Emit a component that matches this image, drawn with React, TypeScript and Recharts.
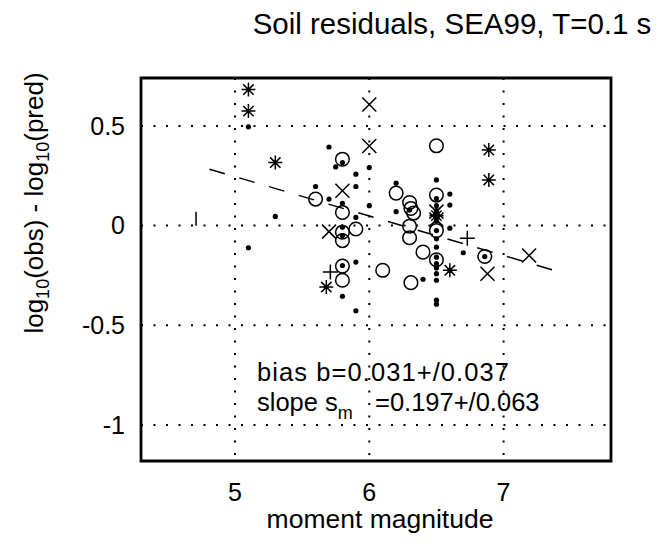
import { ScatterChart, Scatter, XAxis, YAxis, CartesianGrid, ReferenceArea } from 'recharts';

const FONT = '"Liberation Sans", Arial, Helvetica, sans-serif';

// axis ranges and ticks
const xDomain = [4.3, 7.8];
const yDomain = [-1.18, 0.74];
const xTicks = [5, 6, 7];
const yTicks = [-1, -0.5, 0, 0.5];

// small filled dots
const dotX = [5.1, 5.1, 5.3, 5.7, 5.8, 5.75, 5.9, 5.9, 6.0, 6.0, 5.6, 5.7, 5.8, 5.9, 5.8, 5.8, 5.9, 5.8, 5.8, 5.9,
  6.2, 6.2, 6.3, 6.5, 6.5, 6.5, 6.5, 6.5, 6.5, 6.5, 6.5, 6.5, 6.5, 6.5, 6.5, 6.5, 6.5, 6.5, 6.5,
  6.6, 6.6, 6.6, 6.7, 6.4, 6.86, 6.6];
const dotY = [0.495, -0.111, 0.046, 0.394, 0.316, 0.294, 0.258, 0.196, 0.291, 0.1, 0.196, 0.133, 0.111, 0.041, -0.008, -0.05, -0.183, -0.2, -0.354, -0.427,
  0.213, 0.07, 0.078, 0.229, 0.136, 0.1, 0.075, 0.05, 0.025, -0.025, -0.066, -0.108, -0.158, -0.191, -0.212, -0.241, -0.274, -0.374, -0.394,
  0.158, 0.103, -0.013, -0.136, -0.269, -0.155, -0.224];

// open circles
const circleX = [5.8, 5.6, 5.8, 5.8, 5.8, 5.9, 5.8, 5.8, 6.1, 6.31, 6.2, 6.3, 6.31, 6.33, 6.3, 6.3, 6.4, 6.5, 6.5, 6.5, 6.5, 6.86];
const circleY = [0.333, 0.133, 0.066, -0.033, -0.075, -0.017, -0.203, -0.274, -0.224, -0.286, 0.163, 0.116, 0.086, 0.063, -0.003, -0.061, -0.133, 0.4, 0.153, -0.025, -0.171, -0.155];

// x markers
const crossX = [6.0, 6.0, 5.8, 5.7, 6.5, 6.5, 6.88, 7.19];
const crossY = [0.607, 0.399, 0.175, -0.03, 0.07, 0.03, -0.241, -0.15];

// asterisks
const starX = [5.1, 5.1, 5.3, 6.89, 6.89, 5.68, 6.6, 6.5];
const starY = [0.682, 0.574, 0.316, 0.379, 0.229, -0.308, -0.224, 0.05];

// plus signs
const plusX = [5.71, 6.73];
const plusY = [-0.233, -0.063];

// single vertical bar marker
const barX = [4.71];
const barY = [0.035];

// fitted trend (dashed)
const fitX = [4.81, 7.4];
const fitY = [0.283, -0.229];

const zip = (xs: number[], ys: number[]) => xs.map((x, i) => ({ x, y: ys[i] }));

const Dot = ({ cx, cy }: any) => <circle cx={cx} cy={cy} r={2.6} fill="#000" />;
const Ring = ({ cx, cy }: any) => (
  <circle cx={cx} cy={cy} r={6.8} fill="none" stroke="#000" strokeWidth={1.5} />
);
const Cross = ({ cx, cy }: any) => {
  const s = 7;
  return (
    <path d={`M${cx - s},${cy - s}L${cx + s},${cy + s}M${cx - s},${cy + s}L${cx + s},${cy - s}`} stroke="#000" strokeWidth={1.5} fill="none" />
  );
};
const Plus = ({ cx, cy }: any) => {
  const s = 7.5;
  return <path d={`M${cx - s},${cy}L${cx + s},${cy}M${cx},${cy - s}L${cx},${cy + s}`} stroke="#000" strokeWidth={1.5} fill="none" />;
};
const Star = ({ cx, cy }: any) => {
  const s = 7;
  const d = 5.2;
  return (
    <g>
      <path
        d={`M${cx - s},${cy}L${cx + s},${cy}M${cx},${cy - s}L${cx},${cy + s}M${cx - d},${cy - d}L${cx + d},${cy + d}M${cx - d},${cy + d}L${cx + d},${cy - d}`}
        stroke="#000"
        strokeWidth={1.5}
        fill="none"
      />
      <circle cx={cx} cy={cy} r={2} fill="#000" />
    </g>
  );
};
const VBar = ({ cx, cy }: any) => <path d={`M${cx},${cy - 7}L${cx},${cy + 7}`} stroke="#000" strokeWidth={1.5} />;
const Nothing = () => <g />;

export default function App() {
  return (
    <div style={{ position: 'absolute', left: 0, top: 0, width: 663, height: 554, background: '#fff' }}>
      <ScatterChart width={663} height={554} margin={{ top: 78, right: 52, left: 0, bottom: 0 }}>
        <CartesianGrid stroke="#000" strokeWidth={2} strokeDasharray="2 10.5" />
        <XAxis
          type="number"
          dataKey="x"
          domain={xDomain}
          ticks={xTicks}
          height={93}
          axisLine={false}
          tickLine={false}
          tickSize={0}
          tickMargin={22}
          allowDataOverflow
          tick={{ fill: '#000', fontSize: 25, fontFamily: FONT }}
        />
        <YAxis
          type="number"
          dataKey="y"
          domain={yDomain}
          ticks={yTicks}
          width={141}
          axisLine={false}
          tickLine={false}
          tickSize={0}
          tickMargin={16}
          allowDataOverflow
          tick={{ fill: '#000', fontSize: 25, fontFamily: FONT }}
        />
        <ReferenceArea x1={xDomain[0]} x2={xDomain[1]} y1={yDomain[0]} y2={yDomain[1]} fill="none" stroke="#000" strokeWidth={2.8} />
        <Scatter data={zip(fitX, fitY)} line={{ stroke: '#000', strokeWidth: 1.5, strokeDasharray: '16 15' }} shape={Nothing} isAnimationActive={false} />
        <Scatter data={zip(dotX, dotY)} shape={Dot} isAnimationActive={false} />
        <Scatter data={zip(circleX, circleY)} shape={Ring} isAnimationActive={false} />
        <Scatter data={zip(crossX, crossY)} shape={Cross} isAnimationActive={false} />
        <Scatter data={zip(starX, starY)} shape={Star} isAnimationActive={false} />
        <Scatter data={zip(plusX, plusY)} shape={Plus} isAnimationActive={false} />
        <Scatter data={zip(barX, barY)} shape={VBar} isAnimationActive={false} />
      </ScatterChart>
      <svg width={663} height={554} style={{ position: 'absolute', left: 0, top: 0, pointerEvents: 'none' }} fontFamily={FONT} fill="#000">
        <text x={452} y={34} fontSize={29.5} textAnchor="middle">Soil residuals, SEA99, T=0.1 s</text>
        <text x={380} y={528} fontSize={26.5} textAnchor="middle">moment magnitude</text>
        <text transform="translate(43,203) rotate(-90)" fontSize={26} textAnchor="middle">
          log<tspan fontSize={18} dy={6}>10</tspan>
          <tspan dy={-6}>(obs) - log</tspan>
          <tspan fontSize={18} dy={6}>10</tspan>
          <tspan dy={-6}>(pred)</tspan>
        </text>
        <text x={257} y={381} fontSize={25.5} textLength={252}>bias b=0.031+/0.037</text>
        <text x={257} y={411} fontSize={25.5}>
          slope s<tspan fontSize={18} dy={8}>m</tspan>
          <tspan x={375} dy={-8}>=0.197+/0.063</tspan>
        </text>
      </svg>
    </div>
  );
}
